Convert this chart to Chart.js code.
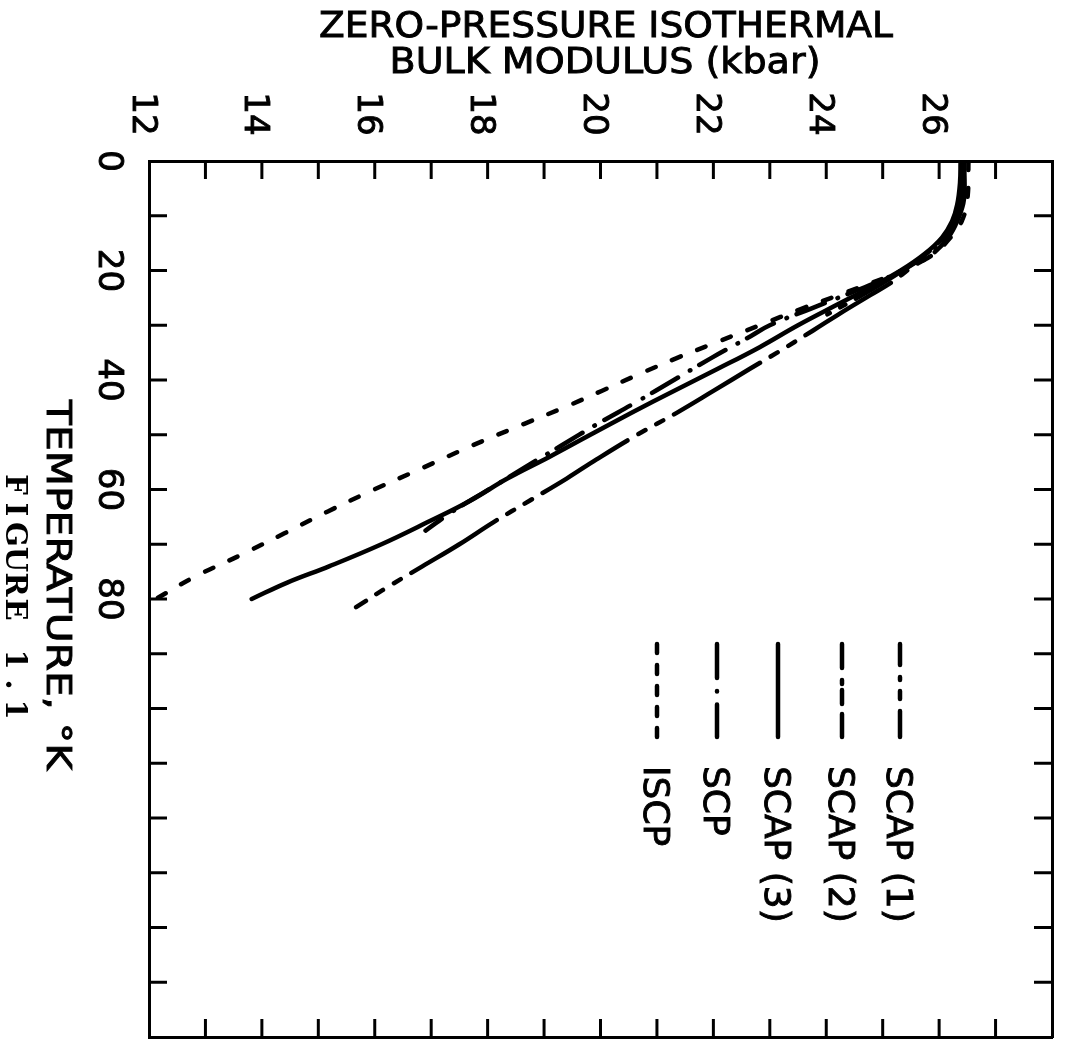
<!DOCTYPE html>
<html>
<head>
<meta charset="utf-8">
<title>Zero-pressure isothermal bulk modulus</title>
<script src="https://cdn.jsdelivr.net/npm/chart.js@4/dist/chart.umd.min.js"></script>
<style>
  html, body { margin: 0; padding: 0; background: #fff; }
  #chart { display: block; }
</style>
</head>
<body>
<canvas id="chart" width="1071" height="1048"></canvas>
<script>
// axis labels that get printed (ticks themselves run every 1 kbar / 10 K)
const modulusLabels = [12, 14, 16, 18, 20, 22, 24, 26];
const temperatureLabels = [0, 20, 40, 60, 80];

// SCAP (1)
const scap1Temp    = [0, 7, 11, 14, 17, 19.5, 22, 24.5, 28, 31, 35, 38, 42, 46, 50, 54.5, 58, 62, 66, 70, 74, 78, 81.5];
const scap1Modulus = [26.44, 26.44, 26.32, 26.16, 25.88, 25.5, 25.18, 24.78, 24.22, 23.76, 23.13, 22.64, 22.0, 21.35, 20.65, 19.93, 19.4, 18.75, 18.1, 17.5, 16.85, 16.2, 15.67];

// SCAP (2)
const scap2Temp    = [0, 6, 10, 13, 16, 19, 22, 25, 28];
const scap2Modulus = [26.41, 26.4, 26.3, 26.14, 25.88, 25.5, 25.05, 24.55, 24.02];

// SCAP (3)
const scap3Temp    = [0, 4, 8, 11, 14, 17, 20, 23, 26, 30, 34, 38, 42, 46, 50, 54, 58, 62, 66, 70, 74, 77, 80];
const scap3Modulus = [26.38, 26.37, 26.32, 26.23, 26.05, 25.74, 25.32, 24.8, 24.24, 23.5, 22.82, 22.07, 21.3, 20.55, 19.82, 19.1, 18.35, 17.7, 16.93, 16.12, 15.2, 14.45, 13.82];

// SCP
const scpTemp    = [0, 8, 12, 15, 18, 21, 24, 27, 30, 32, 36, 40, 44, 48, 52, 56, 60, 64, 67.5];
const scpModulus = [26.45, 26.4, 26.26, 26.02, 25.66, 25.15, 24.45, 23.72, 23.0, 22.66, 21.96, 21.3, 20.64, 19.95, 19.3, 18.65, 18.02, 17.38, 16.9];

// ISCP
const iscpTemp    = [0, 7, 11, 14, 17, 19, 21, 24, 27, 30, 33, 36, 39, 42, 45, 48, 52, 56, 60, 64, 68, 72, 76, 80];
const iscpModulus = [26.52, 26.5, 26.4, 26.2, 25.9, 25.55, 25.12, 24.35, 23.56, 22.82, 22.08, 21.35, 20.67, 20.02, 19.36, 18.65, 17.72, 16.86, 15.99, 15.17, 14.4, 13.62, 12.8, 12.12];

// line patterns: dash along the curve, dash in the key sample, key column x
const styles = {
  'SCAP (1)': { dash: [100, 12.5, 8, 12.5, 8, 12.5], keyDash: [21, 12, 3, 11, 8, 12, 30], keyX: 900 },
  'SCAP (2)': { dash: [70, 12, 6, 12, 6, 12],        keyDash: [24, 12, 4, 6, 14, 10, 30], keyX: 842 },
  'SCAP (3)': { dash: [],                            keyDash: [],                        keyX: 778 },
  'SCP':      { dash: [30, 10.5, 0.5, 14],           keyDash: [34, 13, 0.5, 13, 40],     keyX: 717 },
  'ISCP':     { dash: [9, 18],                       keyDash: [9, 12],                   keyX: 657 },
};

function toPoints(temps, mods) {
  return temps.map((t, i) => ({ x: mods[i], y: t }));
}

function makeDataset(label, temps, mods) {
  return {
    label: label,
    data: toPoints(temps, mods),
    showLine: true,
    borderColor: '#000',
    borderWidth: 4.5,
    borderDash: styles[label].dash,
    borderCapStyle: 'round',
    borderJoinStyle: 'round',
    pointRadius: 0,
    tension: 0.4,
    fill: false,
    xAxisID: 'x',
    yAxisID: 'y',
  };
}

const FONT = '"DejaVu Sans", sans-serif';
const TICK_LEN = 18;

// fill plus a thin outline, so the lettering has the weight of the pen strokes
function ink(ctx, text, x, y) {
  ctx.fillText(text, x, y);
  ctx.lineWidth = 0.9;
  ctx.strokeText(text, x, y);
}

// text turned a quarter turn clockwise, centred on (cx, cy) or starting there
function drawTurned(ctx, text, cx, cy, font, align, width) {
  ctx.save();
  ctx.translate(cx, cy);
  ctx.rotate(Math.PI / 2);
  ctx.font = font;
  ctx.textAlign = align || 'center';
  ctx.textBaseline = 'alphabetic';
  const m = ctx.measureText(text);
  const capH = m.actualBoundingBoxAscent;
  if (width) ctx.scale(width / m.width, 1);
  ink(ctx, text, 0, capH / 2);
  ctx.restore();
}

// turned text with every character on an even pitch (typewriter caption)
function drawTurnedSpaced(ctx, text, cx, cy, font, span) {
  ctx.save();
  ctx.translate(cx, cy);
  ctx.rotate(Math.PI / 2);
  ctx.font = font;
  ctx.textAlign = 'center';
  ctx.textBaseline = 'alphabetic';
  const capH = ctx.measureText('F').actualBoundingBoxAscent;
  const pitch = span / text.length;
  for (let i = 0; i < text.length; i++) {
    ctx.fillText(text[i], -span / 2 + pitch * (i + 0.5), capH / 2);
  }
  ctx.restore();
}

function drawFlat(ctx, text, cx, cy, font, width) {
  ctx.save();
  ctx.translate(cx, cy);
  ctx.font = font;
  ctx.textAlign = 'center';
  ctx.textBaseline = 'alphabetic';
  const capH = ctx.measureText('ZERO').actualBoundingBoxAscent;
  if (width) ctx.scale(width / ctx.measureText(text).width, 1);
  ink(ctx, text, 0, capH / 2);
  ctx.restore();
}

const frameDecor = {
  id: 'frameDecor',
  beforeDraw(chart) {
    const ctx = chart.ctx;
    ctx.save();
    ctx.fillStyle = '#fff';
    ctx.fillRect(0, 0, chart.width, chart.height);
    ctx.restore();
  },
  afterDraw(chart) {
    const { ctx, chartArea: a, scales } = chart;
    ctx.save();
    ctx.strokeStyle = '#000';
    ctx.fillStyle = '#000';
    ctx.lineWidth = 3;
    ctx.lineCap = 'butt';

    // inward tick marks on all four sides
    const inner = (scale, edge, dir, horizontal) => {
      scale.ticks.forEach(t => {
        if (t.value <= scale.min || t.value >= scale.max) return;
        const p = scale.getPixelForValue(t.value);
        ctx.beginPath();
        if (horizontal) { ctx.moveTo(p, edge); ctx.lineTo(p, edge + dir * TICK_LEN); }
        else { ctx.moveTo(edge, p); ctx.lineTo(edge + dir * TICK_LEN, p); }
        ctx.stroke();
      });
    };
    inner(scales.x, a.top, 1, true);
    inner(scales.x2, a.bottom, -1, true);
    inner(scales.y, a.left, 1, false);
    inner(scales.y2, a.right, -1, false);

    // tick labels
    const tickFont = '34px ' + FONT;
    modulusLabels.forEach(v => {
      drawTurned(ctx, String(v), scales.x.getPixelForValue(v) - 4, 114, tickFont);
    });
    temperatureLabels.forEach(v => {
      drawTurned(ctx, String(v), 111, scales.y.getPixelForValue(v), tickFont);
    });

    // axis titles
    drawFlat(ctx, 'ZERO-PRESSURE ISOTHERMAL', 606, 24, '36px ' + FONT, 574);
    drawFlat(ctx, 'BULK MODULUS (kbar)', 605, 60, '36px ' + FONT, 431);
    drawTurned(ctx, 'TEMPERATURE, \u00B0K', 60, 585, '34px ' + FONT, 'center', 370);
    drawTurnedSpaced(ctx, 'FIGURE 1.1', 17, 597, 'bold 29px "DejaVu Serif", serif', 250);

    // key: short vertical sample, then the name running downwards
    chart.data.datasets.forEach(ds => {
      const st = styles[ds.label];
      ctx.save();
      ctx.lineWidth = 4.5;
      ctx.lineCap = 'round';
      ctx.setLineDash(st.keyDash);
      ctx.beginPath();
      ctx.moveTo(st.keyX, 644);
      ctx.lineTo(st.keyX, 737);
      ctx.stroke();
      ctx.restore();
      drawTurned(ctx, ds.label, st.keyX, 766, '36px ' + FONT, 'left');
    });
    ctx.restore();
  }
};

const axisCommon = {
  type: 'linear',
  ticks: { display: false },
  grid: { display: false },
  border: { display: true, color: '#000', width: 3 },
};

new Chart(document.getElementById('chart'), {
  type: 'scatter',
  data: {
    datasets: [
      makeDataset('SCAP (1)', scap1Temp, scap1Modulus),
      makeDataset('SCAP (2)', scap2Temp, scap2Modulus),
      makeDataset('SCAP (3)', scap3Temp, scap3Modulus),
      makeDataset('SCP', scpTemp, scpModulus),
      makeDataset('ISCP', iscpTemp, iscpModulus),
    ],
  },
  options: {
    responsive: false,
    animation: false,
    devicePixelRatio: 1,
    layout: { padding: { left: 141, top: 153, right: 11, bottom: 3 } },
    plugins: { legend: { display: false }, tooltip: { enabled: false } },
    scales: {
      x:  { ...axisCommon, position: 'top', min: 12, max: 28, ticks: { display: false, stepSize: 1 } },
      x2: { ...axisCommon, position: 'bottom', min: 12, max: 28, ticks: { display: false, stepSize: 1 } },
      y:  { ...axisCommon, position: 'left', min: 0, max: 160, reverse: true, ticks: { display: false, stepSize: 10 } },
      y2: { ...axisCommon, position: 'right', min: 0, max: 160, reverse: true, ticks: { display: false, stepSize: 10 } },
    },
  },
  plugins: [frameDecor],
});
</script>
</body>
</html>
